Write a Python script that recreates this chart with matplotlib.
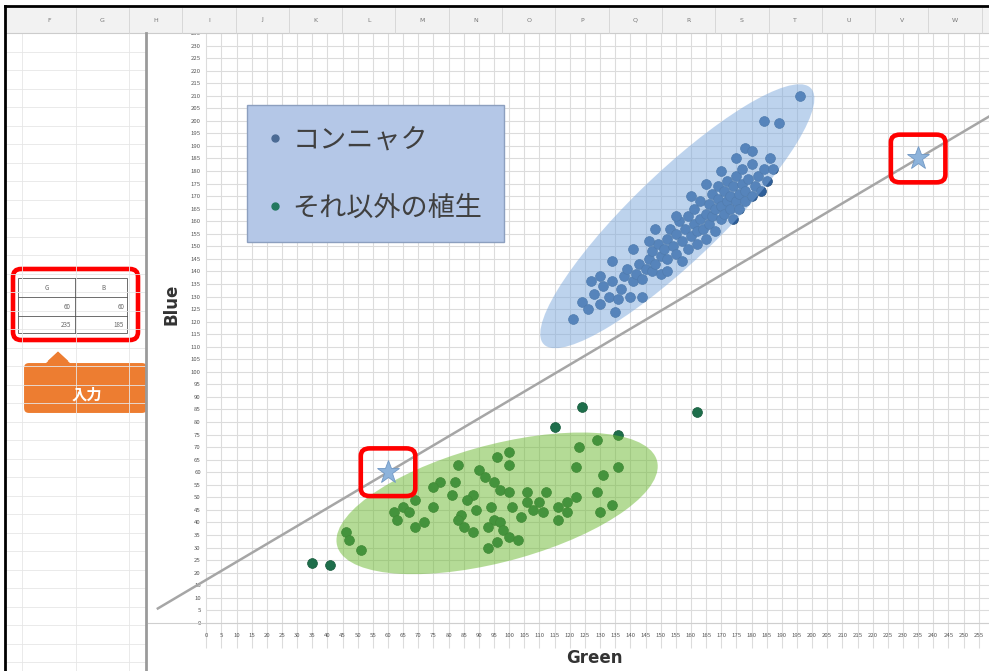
import matplotlib
matplotlib.use("Agg")
import matplotlib.pyplot as plt
import numpy as np
from matplotlib.lines import Line2D
from matplotlib.patches import Ellipse, FancyBboxPatch, Polygon, Rectangle

plt.rcParams["font.family"] = ["Noto Sans CJK JP", "DejaVu Sans"]

# ---- data: (Green, Blue) values ----
konnyaku_g = [121, 124, 126, 128, 130, 131, 133, 134, 136, 137,
              138, 140, 139, 141, 142, 143, 144, 145, 146, 147,
              147, 148, 149, 150, 150, 151, 152, 152, 153, 154,
              155, 155, 156, 157, 157, 158, 159, 159, 160, 161,
              161, 162, 162, 163, 163, 164, 165, 165, 166, 166,
              167, 167, 168, 168, 169, 169, 170, 170, 171, 171,
              172, 172, 173, 173, 174, 174, 175, 175, 176, 176,
              177, 177, 178, 178, 179, 180, 180, 181, 182, 183,
              184, 185, 186, 178, 184, 189, 196, 135, 144, 152,
              130, 127, 134, 141, 148, 146, 155, 160, 165, 170,
              175, 180, 187]
konnyaku_b = [121, 128, 125, 131, 127, 134, 130, 136, 129, 133,
              138, 130, 141, 136, 139, 143, 137, 141, 145, 140,
              148, 143, 151, 146, 139, 149, 153, 145, 157, 150,
              147, 155, 160, 152, 144, 157, 162, 149, 154, 159,
              165, 151, 156, 161, 168, 157, 163, 153, 167, 159,
              171, 162, 165, 156, 169, 174, 161, 166, 172, 163,
              168, 176, 165, 170, 174, 161, 168, 178, 171, 165,
              175, 181, 168, 172, 177, 170, 183, 174, 178, 172,
              181, 176, 185, 189, 200, 199, 210, 124, 130, 140,
              138, 136, 144, 149, 157, 152, 162, 170, 175, 180,
              185, 188, 181]

other_g = [124, 115, 136, 129, 123, 100, 96, 100, 83, 136,
           122, 90, 131, 92, 77, 82, 95, 75, 97, 100,
           81, 88, 129, 106, 112, 122, 69, 86, 110, 106,
           119, 94, 101, 134, 65, 75, 89, 108, 116, 119,
           62, 67, 84, 130, 95, 104, 111, 116, 63, 83,
           97, 72, 69, 85, 93, 98, 46, 88, 100, 103,
           47, 96, 93, 51, 35, 41, 162]
other_b = [86, 78, 75, 73, 70, 68, 66, 63, 63, 62,
           62, 61, 59, 58, 56, 56, 56, 54, 53, 52,
           51, 51, 52, 52, 52, 50, 49, 49, 48, 48,
           48, 46, 46, 47, 46, 46, 45, 45, 46, 44,
           44, 44, 43, 44, 41, 42, 44, 41, 41, 41,
           40, 40, 38, 38, 38, 37, 36, 36, 34, 33,
           33, 32, 30, 29, 24, 23, 84]

input_g = [60, 235]
input_b = [60, 185]

series_names = ["コンニャク", "それ以外の植生"]
x_ticks = np.arange(0, 256, 5)
y_ticks = np.arange(0, 236, 5)
sheet_columns = list("FGHIJKLMNOPQRSTUVW")

# colours
BLUE_PT = "#2f5f9a"
GREEN_PT = "#1e6e4b"
BLUE_FILL = "#7da9dd"
GREEN_FILL = "#6bb92f"
GRID = "#dcdcdc"

W, H = 989, 671
fig = plt.figure(figsize=(W / 100, H / 100), dpi=100)
fig.patch.set_facecolor("white")

# ---- chart ----
ax = fig.add_axes([148 / W, 0, (W - 148) / W, (H - 33) / H])
ax.set_xlim(-19.25, 258.4)
ax.set_ylim(-19.2, 234.75)
ax.set_facecolor("white")

ax.vlines(x_ticks, -10, 240, color=GRID, lw=0.8, zorder=0)
ax.hlines(y_ticks, 0, 262, color=GRID, lw=0.8, zorder=0)

ax.spines[["top", "right"]].set_visible(False)
ax.spines["left"].set_position(("data", 0))
ax.spines["bottom"].set_position(("data", 0))
ax.spines["left"].set_color("none")
ax.spines["bottom"].set_color("#cfcfcf")
ax.set_xticks(x_ticks)
ax.set_yticks(y_ticks)
ax.tick_params(axis="x", length=0, pad=7, labelsize=4.3, labelcolor="#555555")
ax.tick_params(axis="y", length=0, pad=4, labelsize=4.3, labelcolor="#555555")

ax.scatter(konnyaku_g, konnyaku_b, s=50, color=BLUE_PT, edgecolor="#24507f",
           linewidth=0.5, zorder=2)
ax.scatter(other_g, other_b, s=50, color=GREEN_PT, edgecolor="#175a3c",
           linewidth=0.5, zorder=2)

# cluster ellipses drawn over the points, semi transparent
ax.add_patch(Ellipse((155.5, 162.0), 135, 32, angle=49.8, color=BLUE_FILL,
                     alpha=0.5, lw=0, zorder=3))
ax.add_patch(Ellipse((96.0, 47.6), 111, 46, angle=18.9, color=GREEN_FILL,
                     alpha=0.5, lw=0, zorder=3))

# boundary line through the two input points
slope = (input_b[1] - input_b[0]) / (input_g[1] - input_g[0])
line_g = np.array([-16, 262])
line_b = input_b[0] + slope * (line_g - input_g[0])
ax.plot(line_g, line_b, color="#a6a6a6", lw=1.8, zorder=4)

ax.plot(input_g, input_b, ls="", marker="*", markersize=17, color="#8db3db",
        markeredgecolor="#7198c4", markeredgewidth=0.6, zorder=5)
for g, b in zip(input_g, input_b):
    ax.add_patch(FancyBboxPatch((g - 9, b - 9.5), 18, 19,
                                boxstyle="round,pad=0,rounding_size=3",
                                fc="none", ec="#ff0000", lw=3.3, zorder=6))

ax.text(128, -14.2, "Green", ha="center", va="center", fontsize=12,
        fontweight="bold", color="#333333", family="DejaVu Sans")
ax.text(-11.5, 127, "Blue", ha="center", va="center", fontsize=12,
        fontweight="bold", color="#333333", rotation=90, family="DejaVu Sans")

handles = [Line2D([], [], ls="", marker="o", markersize=5, color="#4b6b95"),
           Line2D([], [], ls="", marker="o", markersize=5, color="#23785f")]
leg = ax.legend(handles, series_names, loc="upper left",
                bbox_to_anchor=(247 / W, 1 - 105 / H),
                bbox_transform=fig.transFigure, borderaxespad=0,
                fontsize=19.5, borderpad=0.78, labelspacing=1.52,
                handlelength=0.5, handletextpad=0.4, fancybox=False,
                framealpha=1, facecolor="#b4c7e7", edgecolor="#8c9fbf")
for t in leg.get_texts():
    t.set_color("#404040")
leg.set_zorder(7)

# ---- spreadsheet decoration (pixel coordinates) ----
deco = fig.add_axes([0, 0, 1, 1], zorder=5)
deco.set_xlim(0, W)
deco.set_ylim(H, 0)
deco.axis("off")

# left cells
for x in [22.4, 75.7, 129.0]:
    deco.plot([x, x], [33, H], color="#e6e6e6", lw=0.6)
for y in np.arange(33, H, 18.5):
    deco.plot([5, 146], [y, y], color="#e6e6e6", lw=0.6)

# header row
deco.add_patch(Rectangle((5, 6), W - 5, 27, fc="#f2f2f2", ec="none"))
deco.plot([5, W], [33, 33], color="#cccccc", lw=0.8)
col_w = 53.3
for i, name in enumerate(sheet_columns):
    cx = 49 + i * col_w
    deco.text(cx, 20, name, ha="center", va="center", fontsize=4.5,
              color="#777777", family="DejaVu Sans")
    deco.plot([cx + col_w / 2] * 2, [8, 33], color="#d4d4d4", lw=0.6)
deco.plot([5, W], [6, 6], color="black", lw=2)
deco.plot([5, 5], [6, H], color="black", lw=2)
deco.plot([146, 146], [33, H], color="#9a9a9a", lw=2)

# input table
deco.add_patch(Rectangle((18, 278), 109, 55, fc="white", ec="#555555", lw=0.6))
deco.plot([75, 75], [278, 333], color="#555555", lw=0.6)
for y in [297, 316]:
    deco.plot([18, 127], [y, y], color="#555555", lw=0.6)
deco.text(47, 288, "G", ha="center", va="center", fontsize=4.5, color="#666666")
deco.text(103, 288, "B", ha="center", va="center", fontsize=4.5, color="#666666")
for row, (g, b) in enumerate(zip(input_g, input_b)):
    y = 307 + row * 18
    deco.text(71, y, str(g), ha="right", va="center", fontsize=4.5, color="#666666")
    deco.text(124, y, str(b), ha="right", va="center", fontsize=4.5, color="#666666")
deco.add_patch(FancyBboxPatch((13, 269), 125, 71,
                              boxstyle="round,pad=0,rounding_size=8",
                              fc="none", ec="#ff0000", lw=3.3))

# callout
deco.add_patch(Polygon([(44, 363), (58, 350), (72, 363)], closed=True,
                       fc="#ed7d31", ec="white", lw=1.5))
deco.add_patch(FancyBboxPatch((23, 362), 125, 52,
                              boxstyle="round,pad=0,rounding_size=6",
                              fc="#ed7d31", ec="white", lw=1.5))
deco.add_patch(Polygon([(45, 364), (58, 352), (71, 364)], closed=True,
                       fc="#ed7d31", ec="none"))
deco.text(87, 395, "入力", ha="center", va="center", fontsize=11,
          fontweight="bold", color="white")

fig.savefig("out.png", dpi=100, facecolor="white")
